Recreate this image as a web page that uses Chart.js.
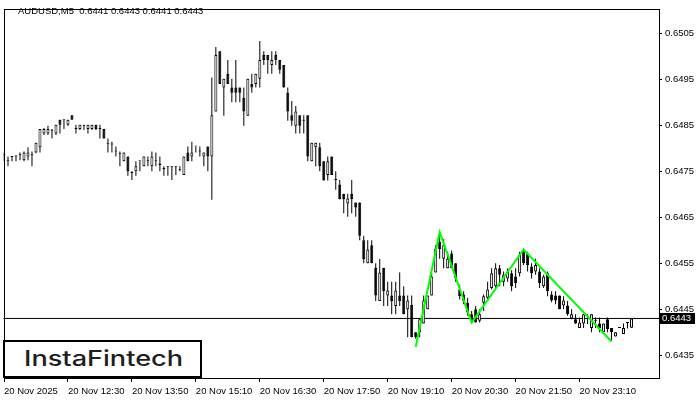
<!DOCTYPE html>
<html>
<head>
<meta charset="utf-8">
<script src="https://cdn.jsdelivr.net/npm/chart.js@4.4.1/dist/chart.umd.min.js"></script>
<style>
  html, body { margin: 0; padding: 0; background: #fff; }
  #wrap { position: relative; width: 700px; height: 400px; }
  #logo {
    position: absolute; left: 3px; top: 340px; width: 199px; height: 38px;
    box-sizing: border-box; border: 2px solid #000; background: #fff;
  }
  #logoText {
    position: absolute; left: 19px; top: 4px; white-space: nowrap;
    font-family: Inter, "Noto Sans", sans-serif; font-weight: 500; font-size: 21px;
    line-height: 26px; color: #1e1e1e; transform-origin: 0 50%;
  }
</style>
</head>
<body>
<div id="wrap">
  <canvas id="chart" width="700" height="400"></canvas>
  <div id="logo"><span id="logoText">InstaFintech</span></div>
</div>
<script>
// AUDUSD M5 candles
const opens = [
  0.64785,0.64772,0.64782,0.64782,0.64785,0.64774,0.64782,0.64785,0.64791,0.64802,
  0.64832,0.64832,0.64838,0.64832,0.64862,0.64862,0.64851,0.64872,0.64842,0.64842,
  0.64849,0.64842,0.64842,0.64851,0.64842,0.64842,0.64810,0.64810,0.64793,0.64787,
  0.64772,0.64782,0.64746,0.64750,0.64772,0.64761,0.64772,0.64761,0.64772,0.64767,
  0.64755,0.64759,0.64759,0.64759,0.64752,0.64742,0.64791,0.64782,0.64804,0.64793,
  0.64782,0.64804,0.64782,0.64880,0.65011,0.64932,0.64962,0.64932,0.64932,0.64932,
  0.64910,0.64871,0.64940,0.64940,0.64951,0.65003,0.65003,0.64981,0.65003,0.64992,
  0.64981,0.64921,0.64872,0.64849,0.64872,0.64860,0.64872,0.64772,0.64802,0.64802,
  0.64772,0.64742,0.64782,0.64731,0.64721,0.64701,0.64680,0.64701,0.64682,0.64682,
  0.64600,0.64550,0.64589,0.64540,0.64468,0.64540,0.64480,0.64480,0.64457,0.64480,
  0.64480,0.64450,0.64459,0.64400,0.64400,0.64419,0.64450,0.64480,0.64530,0.64596,
  0.64560,0.64539,0.64571,0.64550,0.64493,0.64482,0.64464,0.64439,0.64450,0.64425,
  0.64464,0.64475,0.64496,0.64500,0.64539,0.64510,0.64517,0.64528,0.64521,0.64528,
  0.64578,0.64571,0.64543,0.64532,0.64532,0.64500,0.64528,0.64482,0.64480,0.64480,
  0.64458,0.64458,0.64430,0.64428,0.64409,0.64419,0.64428,0.64409,0.64425,0.64419,
  0.64400,0.64428,0.64409,0.64391,0.64409,0.64396,0.64420,0.64410
];
const highs = [
  0.64791,0.64782,0.64782,0.64785,0.64791,0.64793,0.64802,0.64793,0.64812,0.64842,
  0.64844,0.64849,0.64842,0.64851,0.64862,0.64862,0.64862,0.64872,0.64851,0.64851,
  0.64851,0.64851,0.64851,0.64851,0.64851,0.64842,0.64821,0.64814,0.64804,0.64793,
  0.64791,0.64782,0.64750,0.64772,0.64772,0.64782,0.64782,0.64793,0.64791,0.64782,
  0.64761,0.64761,0.64761,0.64761,0.64761,0.64782,0.64804,0.64814,0.64804,0.64804,
  0.64791,0.64804,0.64954,0.65020,0.65011,0.64951,0.64992,0.64951,0.64992,0.64932,
  0.64932,0.64951,0.64962,0.64962,0.65033,0.65011,0.65003,0.65011,0.65011,0.64992,
  0.64981,0.64932,0.64903,0.64892,0.64872,0.64872,0.64872,0.64812,0.64812,0.64812,
  0.64772,0.64782,0.64782,0.64750,0.64731,0.64701,0.64701,0.64731,0.64682,0.64682,
  0.64610,0.64600,0.64600,0.64550,0.64559,0.64540,0.64510,0.64510,0.64510,0.64530,
  0.64500,0.64480,0.64480,0.64400,0.64428,0.64480,0.64480,0.64530,0.64589,0.64615,
  0.64603,0.64575,0.64578,0.64550,0.64503,0.64489,0.64475,0.64446,0.64457,0.64450,
  0.64482,0.64510,0.64539,0.64550,0.64546,0.64532,0.64539,0.64535,0.64539,0.64575,
  0.64582,0.64575,0.64550,0.64560,0.64539,0.64525,0.64532,0.64489,0.64489,0.64480,
  0.64478,0.64468,0.64450,0.64439,0.64432,0.64439,0.64439,0.64439,0.64432,0.64432,
  0.64419,0.64432,0.64409,0.64400,0.64409,0.64419,0.64421,0.64430
];
const lows = [
  0.64772,0.64761,0.64772,0.64772,0.64774,0.64772,0.64774,0.64761,0.64789,0.64791,
  0.64829,0.64829,0.64821,0.64829,0.64832,0.64842,0.64849,0.64862,0.64832,0.64840,
  0.64840,0.64832,0.64840,0.64840,0.64821,0.64821,0.64791,0.64791,0.64782,0.64761,
  0.64772,0.64740,0.64731,0.64740,0.64750,0.64761,0.64761,0.64750,0.64761,0.64750,
  0.64740,0.64740,0.64731,0.64742,0.64750,0.64742,0.64772,0.64772,0.64791,0.64782,
  0.64761,0.64750,0.64688,0.64880,0.64940,0.64871,0.64940,0.64900,0.64900,0.64900,
  0.64849,0.64871,0.64921,0.64932,0.64932,0.64981,0.64962,0.64962,0.64981,0.64962,
  0.64932,0.64860,0.64849,0.64832,0.64832,0.64832,0.64772,0.64772,0.64761,0.64750,
  0.64730,0.64730,0.64742,0.64710,0.64689,0.64659,0.64651,0.64659,0.64651,0.64600,
  0.64550,0.64550,0.64550,0.64468,0.64468,0.64457,0.64457,0.64439,0.64439,0.64457,
  0.64439,0.64389,0.64389,0.64386,0.64389,0.64419,0.64450,0.64480,0.64530,0.64560,
  0.64539,0.64539,0.64539,0.64510,0.64471,0.64461,0.64436,0.64421,0.64421,0.64421,
  0.64446,0.64468,0.64493,0.64493,0.64500,0.64500,0.64510,0.64489,0.64496,0.64521,
  0.64546,0.64532,0.64517,0.64525,0.64496,0.64496,0.64478,0.64465,0.64461,0.64450,
  0.64450,0.64436,0.64428,0.64418,0.64409,0.64409,0.64418,0.64400,0.64409,0.64400,
  0.64400,0.64400,0.64382,0.64391,0.64409,0.64396,0.64408,0.64410
];
const closes = [
  0.64787,0.64774,0.64781,0.64782,0.64785,0.64791,0.64791,0.64785,0.64812,0.64842,
  0.64842,0.64842,0.64838,0.64851,0.64851,0.64861,0.64862,0.64862,0.64842,0.64851,
  0.64849,0.64851,0.64851,0.64842,0.64842,0.64821,0.64810,0.64808,0.64793,0.64787,
  0.64791,0.64750,0.64746,0.64761,0.64772,0.64782,0.64772,0.64782,0.64774,0.64763,
  0.64755,0.64759,0.64759,0.64759,0.64752,0.64782,0.64772,0.64791,0.64804,0.64793,
  0.64791,0.64782,0.64872,0.65003,0.64940,0.64951,0.64940,0.64921,0.64921,0.64921,
  0.64880,0.64951,0.64932,0.64962,0.64992,0.64992,0.64992,0.64992,0.64992,0.64971,
  0.64932,0.64880,0.64860,0.64880,0.64849,0.64860,0.64782,0.64812,0.64812,0.64761,
  0.64730,0.64772,0.64742,0.64731,0.64689,0.64689,0.64691,0.64689,0.64671,0.64610,
  0.64559,0.64580,0.64550,0.64480,0.64530,0.64489,0.64491,0.64468,0.64491,0.64468,
  0.64439,0.64469,0.64389,0.64389,0.64428,0.64469,0.64480,0.64521,0.64582,0.64581,
  0.64589,0.64560,0.64539,0.64517,0.64478,0.64468,0.64443,0.64425,0.64421,0.64439,
  0.64478,0.64493,0.64528,0.64539,0.64525,0.64525,0.64532,0.64500,0.64507,0.64568,
  0.64550,0.64546,0.64528,0.64546,0.64507,0.64521,0.64489,0.64469,0.64469,0.64450,
  0.64469,0.64439,0.64439,0.64419,0.64421,0.64439,0.64428,0.64439,0.64425,0.64409,
  0.64419,0.64407,0.64400,0.64400,0.64409,0.64409,0.64420,0.64430
];

// axis labels
const xTickIndex = [0, 16, 32, 48, 64, 80, 96, 112, 128, 144];
const xTickLabels = ['20 Nov 2025', '20 Nov 12:30', '20 Nov 13:50', '20 Nov 15:10', '20 Nov 16:30',
                     '20 Nov 17:50', '20 Nov 19:10', '20 Nov 20:30', '20 Nov 21:50', '20 Nov 23:10'];
const yTicks = [0.6435, 0.6445, 0.6455, 0.6465, 0.6475, 0.6485, 0.6495, 0.6505];

// pattern (green) vertices: candle index / price
const patternIdx = [103, 109, 117, 130, 152];
const patternPrice = [0.64368, 0.64618, 0.64421, 0.64580, 0.64380];

const symbol = 'AUDUSD,M5';
const lastBar = [0.6441, 0.6443, 0.6441, 0.6443];
const bidPrice = 0.6443;

const FONT = '"Liberation Sans", Arial, sans-serif';

const idx = opens.map((_, i) => i);
const bodies = idx.map(i => ({ x: i, y: [Math.min(opens[i], closes[i]), Math.max(opens[i], closes[i])] }));
const wicks = idx.map(i => ({ x: i, y: [lows[i], highs[i]] }));
const bodyFill = idx.map(i => closes[i] >= opens[i] ? '#ffffff' : '#000000');

const mtPlugin = {
  id: 'mt',
  afterDraw(chart) {
    const { ctx, chartArea: a, scales } = chart;
    ctx.save();
    // frame
    ctx.strokeStyle = '#000';
    ctx.lineWidth = 1;
    ctx.strokeRect(Math.round(a.left) + 0.5, Math.round(a.top) + 0.5,
                   Math.round(a.right - a.left), Math.round(a.bottom - a.top));
    // bid price tag
    const y = Math.round(scales.y.getPixelForValue(bidPrice));
    ctx.fillStyle = '#000';
    ctx.fillRect(Math.round(a.right) + 1, y - 5, 35, 11);
    ctx.fillStyle = '#fff';
    ctx.font = '9.5px ' + FONT;
    ctx.textBaseline = 'middle';
    ctx.fillText(bidPrice.toFixed(4), Math.round(a.right) + 3, y + 0.5);
    // title
    ctx.fillStyle = '#000';
    ctx.textBaseline = 'alphabetic';
    ctx.fillText(symbol + '  ' + lastBar.map(v => v.toFixed(4)).join(' '), 18, 14);
    ctx.restore();
  }
};

new Chart(document.getElementById('chart'), {
  type: 'bar',
  data: {
    datasets: [
      {
        type: 'line',
        data: patternIdx.map((v, k) => ({ x: v, y: patternPrice[k] })),
        borderColor: '#00ff00', borderWidth: 2, pointRadius: 0, tension: 0, order: 0
      },
      {
        type: 'bar', data: bodies,
        backgroundColor: bodyFill, borderColor: '#000', borderWidth: 1, borderSkipped: false,
        barThickness: 3, grouped: false, minBarLength: 1, inflateAmount: 0, order: 1
      },
      {
        type: 'bar', data: wicks,
        backgroundColor: '#000', borderWidth: 0,
        barThickness: 1, grouped: false, minBarLength: 1, inflateAmount: 0, order: 2
      },
      {
        type: 'line',
        data: [{ x: -1, y: bidPrice }, { x: 170, y: bidPrice }],
        borderColor: '#000', borderWidth: 1, pointRadius: 0, order: 3
      }
    ]
  },
  options: {
    responsive: false,
    animation: false,
    devicePixelRatio: 1,
    events: [],
    layout: { padding: { left: 3, top: 3, right: 0, bottom: 0 } },
    plugins: { legend: { display: false }, tooltip: { enabled: false } },
    scales: {
      x: {
        type: 'linear', min: -0.125, max: 163.875, offset: false,
        grid: { drawOnChartArea: false, drawTicks: true, tickLength: 4, color: '#000', offset: false },
        border: { display: false },
        ticks: {
          autoSkip: false, maxRotation: 0, minRotation: 0, align: 'start', padding: 4,
          color: '#000', font: { family: FONT, size: 9.5 },
          callback: (v, i) => xTickLabels[i]
        },
        afterBuildTicks: s => { s.ticks = xTickIndex.map(v => ({ value: v })); },
        afterFit: s => { s.height = 22; }
      },
      y: {
        type: 'linear', position: 'right', min: 0.643005, max: 0.651035, beginAtZero: false,
        grid: { drawOnChartArea: false, drawTicks: true, tickLength: 3, color: '#000' },
        border: { display: false },
        ticks: {
          padding: 3, color: '#000', font: { family: FONT, size: 9.5 },
          callback: v => v.toFixed(4)
        },
        afterBuildTicks: s => { s.ticks = yTicks.map(v => ({ value: v })); },
        afterFit: s => { s.width = 41; }
      }
    }
  },
  plugins: [mtPlugin]
});

// widen the logo word to the span seen in the picture (about 159px)
const logoText = document.getElementById('logoText');
const lw = logoText.getBoundingClientRect().width;
logoText.style.transform = 'scaleX(' + (159 / lw).toFixed(3) + ')';
</script>
</body>
</html>
